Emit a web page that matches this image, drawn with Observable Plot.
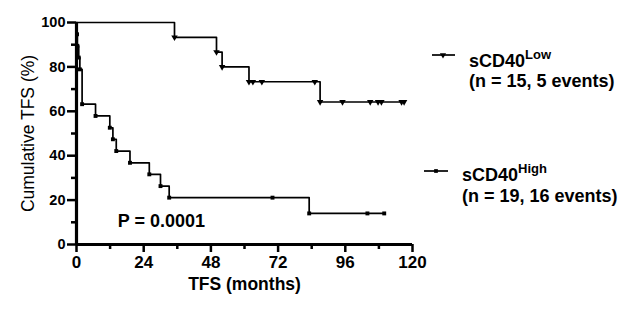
<!DOCTYPE html>
<html>
<head>
<meta charset="utf-8">
<script src="https://cdn.jsdelivr.net/npm/d3@7"></script>
<script src="https://cdn.jsdelivr.net/npm/@observablehq/plot@0.6"></script>
<style>
  html, body { margin: 0; padding: 0; background: #fff; }
  #chart { position: relative; width: 640px; height: 311px; }
  svg { font-family: "Liberation Sans", Arial, sans-serif; font-weight: bold; }
</style>
</head>
<body>
<div id="chart"></div>
<script>
// ---- Data ----
const lowTimes = [0, 35, 50, 52, 61.6, 63, 66.2, 85.1, 87, 95, 104.9, 107.7, 108.9, 116.1, 117];
const lowSurv  = [100, 93.3, 86.7, 80.0, 73.3, 73.3, 73.3, 73.3, 64.2, 64.2, 64.2, 64.2, 64.2, 64.2, 64.2];
const highTimes = [0, 0.2, 0.3, 0.8, 1.2, 2.0, 6.8, 11.9, 13, 14.2, 19.1, 26, 30, 33.1, 70, 83.1, 103.9, 109.9];
const highSurv  = [100, 94.7, 89.5, 84.2, 78.9, 63.2, 57.9, 52.6, 47.4, 42.1, 36.8, 31.6, 26.3, 21.1, 21.1, 14.0, 14.0, 14.0];
const xMajor = [0, 24, 48, 72, 96, 120];
const xMinor = [12, 36, 60, 84, 108];
const yMajor = [0, 20, 40, 60, 80, 100];
const yMinor = [10, 30, 50, 70, 90];
const yLabel = "Cumulative TFS (%)";
const xLabel = "TFS (months)";
const pLabel = "P = 0.0001";
const pPos = {t: 30.3, s: 10.7};
const legendItems = [
  {name: "sCD40", sup: "Low", n: "(n = 15, 5 events)", symbol: "triangle"},
  {name: "sCD40", sup: "High", n: "(n = 19, 16 events)", symbol: "square"}
];

const low = lowTimes.map((t, i) => ({t, s: lowSurv[i]}));
const high = highTimes.map((t, i) => ({t, s: highSurv[i]}));

const plot = Plot.plot({
  width: 640,
  height: 311,
  marginLeft: 76,
  marginRight: 228,
  marginTop: 22,
  marginBottom: 67,
  style: {fontFamily: '"Liberation Sans", Arial, sans-serif', fontWeight: "bold", background: "#fff", color: "#000"},
  x: {domain: [0, 120]},
  y: {domain: [0, 100]},
  marks: [
    Plot.axisY({ticks: yMajor, tickSize: 9, tickPadding: 2, fontSize: 14.5, label: null, strokeWidth: 2.5}),
    Plot.axisY({ticks: yMinor, tickSize: 5, text: null, label: null, strokeWidth: 2.5}),
    Plot.axisX({ticks: xMajor, tickSize: 8, tickPadding: 3, fontSize: 17, label: null, strokeWidth: 2.5}),
    Plot.axisX({ticks: xMinor, tickSize: 5, text: null, label: null, strokeWidth: 2.5}),
    Plot.ruleX([0], {y1: 0, y2: 100, strokeWidth: 3.2}),
    Plot.ruleY([0], {x1: 0, x2: 120, strokeWidth: 3.2}),
    Plot.line(low, {x: "t", y: "s", curve: "step-after", stroke: "black", strokeWidth: 1.7}),
    Plot.line(high, {x: "t", y: "s", curve: "step-after", stroke: "black", strokeWidth: 1.7}),
    Plot.dot(low.filter(d => d.t > 0), {x: "t", y: "s", symbol: "triangle", rotate: 180, r: 2.4, fill: "black", stroke: null}),
    Plot.dot(high.filter(d => d.t > 0), {x: "t", y: "s", symbol: "square", r: 2.2, fill: "black", stroke: null}),
    Plot.text([yLabel], {frameAnchor: "left", textAnchor: "middle", rotate: -90, dx: -48, fontSize: 17.5, fontWeight: "normal", text: d => d}),
    Plot.text([xLabel], {frameAnchor: "bottom", dy: 45, fontSize: 17.5, text: d => d, letterSpacing: "0.6px"}),
    Plot.text([pLabel], {x: () => pPos.t, y: () => pPos.s, fontSize: 18, text: d => d})
  ]
});

// Legend (right side, inside the same SVG)
const svg = d3.select(plot);
const legendRows = [
  {lx1: 432, lx2: 455, ly: 55, mx: 443, tx: 469, ty: 66.7, supDy: -7.5, ny: 87},
  {lx1: 424, lx2: 448, ly: 171, mx: 436, tx: 462, ty: 181, supDy: -8.3, ny: 202}
];
legendItems.forEach((item, i) => {
  const r = legendRows[i];
  const g = svg.append("g").attr("text-anchor", "start");
  g.append("line").attr("x1", r.lx1).attr("x2", r.lx2).attr("y1", r.ly).attr("y2", r.ly)
    .attr("stroke", "black").attr("stroke-width", 1.7);
  const sym = item.symbol === "triangle" ? d3.symbolTriangle : d3.symbolSquare;
  const size = item.symbol === "triangle" ? Math.PI * 2.3 * 2.3 : Math.PI * 2.1 * 2.1;
  g.append("path").attr("d", d3.symbol(sym, size)())
    .attr("transform", `translate(${r.mx},${r.ly})` + (item.symbol === "triangle" ? " rotate(180)" : ""))
    .attr("fill", "black");
  const t = g.append("text").attr("x", r.tx).attr("y", r.ty).attr("font-size", 18).attr("font-weight", "bold");
  t.append("tspan").text(item.name);
  t.append("tspan").attr("dy", r.supDy).attr("font-size", 13).text(item.sup);
  g.append("text").attr("x", r.tx).attr("y", r.ny).attr("font-size", 18).attr("font-weight", "bold").text(item.n);
});

document.getElementById("chart").appendChild(plot);
</script>
</body>
</html>
